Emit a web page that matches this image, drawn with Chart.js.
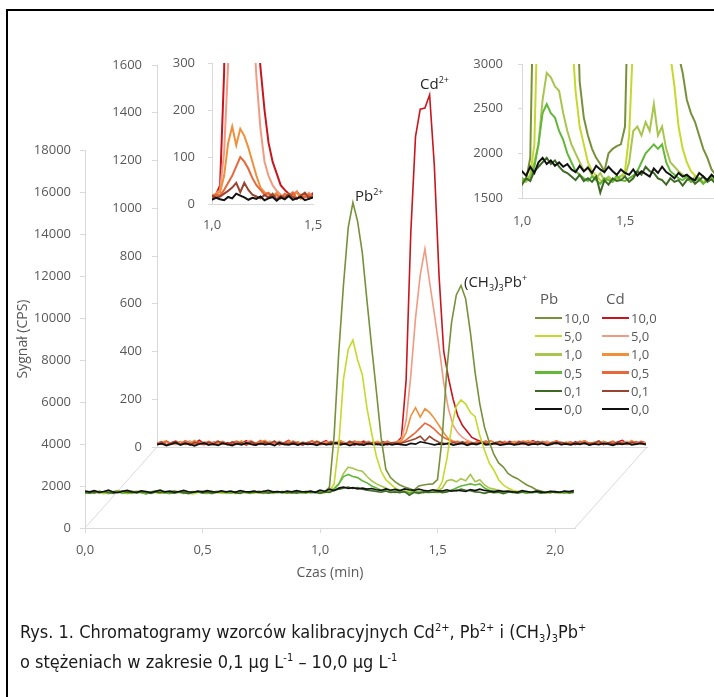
<!DOCTYPE html>
<html lang="pl">
<head>
<meta charset="utf-8">
<title>Chromatogramy wzorców kalibracyjnych</title>
<script src="https://cdn.jsdelivr.net/npm/chart.js@4.4.1/dist/chart.umd.min.js"></script>
<style>
  body { margin: 0; background: #fff; }
  #plansza { position: relative; width: 714px; height: 697px; overflow: hidden; font-family: "Open Sans", sans-serif; }
  #ramka { position: absolute; left: 6px; top: 9px; width: 760px; height: 760px; border-left: 2px solid #000; border-top: 2px solid #000; }
  canvas { position: absolute; left: 0; top: 0; }
  .opis { position: absolute; font-size: 15px; line-height: 16px; color: #262626; white-space: nowrap; }
  .opis sup { font-size: 9px; vertical-align: 6px; line-height: 0; }
  .opis sub { font-size: 9px; vertical-align: -4px; line-height: 0; }
  .naglowek { position: absolute; font-size: 15px; line-height: 16px; color: #595959; }
  .wiersz { position: absolute; height: 18px; display: flex; align-items: center; font-size: 13px; color: #595959; }
  .wiersz i { display: inline-block; width: 27px; height: 2.5px; margin-right: 2px; }
  #podpis { position: absolute; left: 20px; top: 617px; font-family: "Liberation Sans Narrow", "DejaVu Sans Condensed", sans-serif; font-size: 18px; line-height: 30px; color: #1a1a1a; white-space: nowrap; }
  #podpis sup { font-size: 11px; vertical-align: 7px; line-height: 0; }
  #podpis sub { font-size: 11px; vertical-align: -4px; line-height: 0; }
</style>
</head>
<body>
<div id="plansza">
  <div id="ramka"></div>
  <canvas id="tylny" width="714" height="697"></canvas>
  <canvas id="przedni" width="714" height="697"></canvas>
  <canvas id="wstawkaCd" width="714" height="697"></canvas>
  <canvas id="wstawkaPb" width="714" height="697"></canvas>
  <div class="opis" style="left:355px; top:187px">Pb<sup>2+</sup></div>
  <div class="opis" style="left:420px; top:75px">Cd<sup>2+</sup></div>
  <div class="opis" style="left:464px; top:273px">(CH<sub>3</sub>)<sub>3</sub>Pb<sup>+</sup></div>
  <div id="legenda"></div>
  <div id="podpis">Rys. 1. Chromatogramy wzorców kalibracyjnych Cd<sup>2+</sup>, Pb<sup>2+</sup> i (CH<sub>3</sub>)<sub>3</sub>Pb<sup>+</sup><br>o stężeniach w zakresie 0,1&nbsp;µg L<sup>-1</sup> – 10,0&nbsp;µg L<sup>-1</sup></div>
</div>
<script>
// sygnał co 0,02 min, od 0,00 do 2,08 min
const krokCzasu = 0.02;
const stezenia = ['10,0', '5,0', '1,0', '0,5', '0,1', '0,0'];
const kolorPb = ['#77913a', '#c5d92d', '#a8c64e', '#63b83a', '#3f6a25', '#111111'];
const kolorCd = ['#c8161d', '#f29a82', '#f0903a', '#e8683c', '#9a4430', '#111111'];

// Pb (CPS)
const pb100 = [1690,1720,1650,1760,1700,1640,1730,1780,1690,1660,1710,1750,1680,1620,1700,
  1740,1690,1660,1720,1770,1700,1650,1690,1730,1710,1660,1640,1700,1750,1720,
  1680,1700,1660,1730,1690,1710,1750,1680,1650,1700,1720,1690,1740,1700,1660,
  1710,1680,1730,1700,1690,1720,1700,1950,4400,8400,11600,14300,15500,14600,13100,
  10800,8600,6500,4300,2800,2400,2200,2050,1950,1880,1800,2000,2050,2080,2100,
  2300,4300,7600,9800,11100,11550,10900,9300,7400,5900,4800,4100,3500,3100,2900,
  2600,2450,2350,2200,2050,1950,1820,1760,1700,1680,1730,1690,1720,1660,1700];
const pb50 = [1660,1700,1740,1680,1630,1710,1690,1750,1700,1640,1680,1730,1700,1660,1720,
  1690,1650,1710,1740,1680,1700,1730,1660,1620,1690,1720,1700,1750,1680,1660,
  1710,1690,1640,1700,1740,1680,1660,1720,1700,1690,1650,1730,1700,1680,1710,
  1740,1690,1660,1700,1720,1680,1700,1760,2100,4000,7100,8500,8950,8000,7300,
  5700,4500,3400,2700,2300,2100,1900,1800,1750,1700,1680,1720,1690,1700,1740,
  1800,2200,3300,4800,5800,6100,5900,5500,5300,4400,3700,3100,2750,2300,2050,
  1900,1800,1750,1720,1680,1700,1740,1690,1660,1700,1720,1680,1710,1690,1700];
const pb10 = [1720,1680,1700,1750,1690,1660,1710,1740,1680,1700,1650,1720,1760,1690,1670,
  1700,1730,1680,1640,1710,1690,1750,1700,1670,1720,1690,1660,1700,1740,1680,
  1650,1720,1700,1760,1680,1690,1710,1660,1730,1700,1680,1740,1690,1650,1710,
  1700,1740,1680,1720,1690,1710,1680,1750,1900,2100,2600,2900,2850,2750,2700,
  2450,2250,2100,2000,1900,1800,1850,1750,1720,1780,1700,1740,1690,1720,1750,
  1750,1900,2250,2300,2200,2350,2250,2550,2200,2300,2050,1900,1850,1800,1760,
  1720,1690,1740,1700,1660,1710,1730,1680,1700,1750,1690,1660,1720,1700,1680];
const pb05 = [1640,1700,1760,1690,1720,1660,1700,1730,1650,1710,1760,1680,1700,1640,1720,
  1760,1700,1680,1650,1720,1740,1690,1660,1710,1700,1750,1680,1640,1710,1730,
  1690,1660,1740,1700,1720,1650,1690,1760,1700,1680,1720,1700,1660,1740,1690,
  1720,1680,1660,1750,1700,1690,1720,1700,1850,2100,2450,2550,2450,2400,2250,
  2150,2000,1900,1800,1760,1720,1690,1740,1700,1660,1720,1700,1680,1750,1700,
  1690,1720,1750,1800,1900,2000,2050,2100,2050,2100,1900,1800,1760,1720,1700,
  1740,1680,1700,1720,1660,1700,1750,1690,1710,1680,1720,1700,1660,1710,1730];
const pb01 = [1700,1660,1720,1680,1740,1700,1650,1710,1760,1690,1700,1670,1730,1700,1650,
  1710,1680,1740,1700,1660,1720,1690,1640,1700,1730,1680,1710,1660,1700,1750,
  1700,1740,1680,1650,1710,1690,1720,1700,1740,1660,1700,1690,1730,1680,1700,
  1660,1710,1740,1680,1700,1650,1720,1690,1800,1850,1900,1950,1880,1920,1850,
  1800,1780,1740,1700,1760,1690,1720,1680,1740,1560,1700,1650,1720,1690,1700,
  1740,1680,1720,1800,1760,1850,1800,1780,1720,1700,1650,1720,1680,1700,1640,
  1700,1720,1660,1700,1740,1680,1710,1660,1700,1720,1690,1700,1740,1680,1700];
const pb00 = [1760,1720,1780,1700,1740,1800,1720,1680,1750,1790,1730,1700,1770,1740,1690,
  1750,1800,1720,1760,1700,1740,1790,1730,1700,1760,1720,1780,1740,1700,1770,
  1730,1760,1700,1780,1740,1720,1760,1700,1750,1790,1720,1740,1700,1760,1730,
  1780,1740,1720,1760,1700,1800,1750,1850,1780,1900,1950,1880,1920,1860,1900,
  1850,1880,1820,1790,1860,1800,1840,1780,1860,1820,1790,1850,1800,1760,1820,
  1780,1760,1820,1750,1800,1770,1740,1830,1780,1850,1790,1760,1720,1780,1740,
  1760,1720,1700,1780,1740,1700,1760,1720,1690,1750,1730,1700,1760,1740,1780];

// Cd (CPS)
const cd100 = [15,22,8,18,25,12,20,10,16,28,14,9,20,24,12,
  18,10,22,15,26,12,8,19,24,14,20,11,17,27,13,
  21,9,16,24,12,18,26,10,15,22,13,20,8,17,25,
  14,19,11,23,16,12,20,40,280,900,1300,1415,1420,1475,1180,
  720,400,290,200,130,90,65,40,30,22,18,26,15,20,12,
  24,16,20,11,18,27,14,22,9,19,25,13,17,21,10,
  18,26,14,20,12,23,16,9,21,28,15,19,12,24,17];
const cd50 = [20,12,24,16,10,22,18,26,11,15,21,9,19,25,14,
  10,23,17,12,20,28,13,18,9,24,15,21,12,19,26,
  16,11,20,25,14,9,22,17,13,27,19,10,23,15,18,
  24,12,17,20,10,18,22,30,110,300,540,720,830,690,560,
  420,270,160,90,60,40,28,20,14,22,17,11,20,15,24,
  13,19,26,12,17,22,10,18,25,14,20,9,16,23,12,
  21,15,10,19,26,13,18,22,11,17,24,14,20,12,18];
const cd10 = [14,20,26,11,18,23,10,16,27,13,19,22,9,17,24,
  12,21,15,25,10,18,14,22,28,13,17,20,11,24,16,
  22,13,18,10,25,16,21,12,19,27,14,11,20,23,15,
  10,18,24,13,20,16,22,25,60,130,165,125,160,145,120,
  90,60,35,25,20,16,24,12,19,22,14,26,11,18,21,
  15,23,10,20,27,13,17,22,11,19,25,14,21,16,12,
  20,26,13,18,11,24,17,22,10,19,15,27,12,21,16];
const cd05 = [18,11,23,15,20,12,26,17,9,21,14,24,16,10,22,
  13,19,25,11,17,22,15,27,12,18,10,23,16,20,14,
  9,21,16,26,13,18,11,24,17,20,12,15,25,19,10,
  22,14,18,12,24,15,20,18,30,45,60,80,100,90,75,
  55,40,30,20,24,15,19,12,22,17,25,11,18,14,20,
  16,12,21,25,14,19,10,23,17,13,26,18,11,20,15,
  24,13,19,16,22,10,17,25,14,20,12,18,23,15,11];
const cd01 = [12,18,9,15,22,11,17,8,20,14,10,19,13,24,16,
  10,20,13,17,8,22,15,11,19,14,25,9,16,12,21,
  14,9,18,12,23,16,10,20,13,17,11,24,15,9,19,
  13,20,11,16,9,18,14,16,22,28,35,45,25,45,30,
  20,16,12,19,14,22,10,17,13,21,15,11,18,24,12,
  17,10,21,14,19,12,23,15,9,18,13,20,16,11,22,
  14,19,12,16,25,10,18,13,21,15,11,20,14,17,12];
const cd00 = [10,14,6,12,18,8,15,11,5,13,17,9,12,7,16,
  11,6,14,9,17,12,8,15,10,13,6,18,11,9,14,
  8,16,11,13,7,15,10,12,18,9,14,6,13,11,8,
  15,10,12,7,14,9,13,10,8,15,12,22,18,14,9,
  13,11,16,8,12,15,7,14,10,17,9,12,15,8,11,
  14,9,12,16,8,13,11,15,7,12,18,10,13,9,14,
  11,16,8,13,10,15,12,7,14,11,17,9,12,15,10];

const seriePb = [pb100, pb50, pb10, pb05, pb01, pb00];
const serieCd = [cd100, cd50, cd10, cd05, cd01, cd00];
const czas = pb100.map((_, i) => +(i * krokCzasu).toFixed(2));

Chart.defaults.font.family = "'Open Sans', sans-serif";
Chart.defaults.color = '#595959';

const szary = '#d9d9d9';
const przecinek = v => v.toFixed(1).replace('.', ',');
const calkowite = v => String(v);

function zestaw(serie, kolory, grubosc) {
  return serie.map((wartosci, k) => ({
    label: stezenia[k],
    data: wartosci.map((y, i) => ({ x: czas[i], y: y })),
    borderColor: kolory[k],
    backgroundColor: kolory[k],
    borderWidth: grubosc,
    pointRadius: 0,
    tension: 0,
    order: serie.length - 1 - k
  }));
}

function wspolne(padding, scales) {
  return {
    responsive: false,
    animation: false,
    events: [],
    layout: { padding: padding },
    plugins: { legend: { display: false }, tooltip: { enabled: false } },
    scales: scales
  };
}

// przedni panel - Pb
const przedni = new Chart(document.getElementById('przedni'), {
  type: 'line',
  data: { datasets: zestaw(seriePb, kolorPb, 1.6) },
  options: wspolne({ left: 15, top: 150, right: 139, bottom: 112 }, {
    x: {
      type: 'linear', min: 0, max: 2.085,
      ticks: { stepSize: 0.5, includeBounds: false, padding: 9, maxRotation: 0, font: { size: 13 }, callback: przecinek },
      grid: { drawOnChartArea: false, tickLength: 5, color: szary },
      border: { color: szary },
      title: { display: true, text: 'Czas (min)', font: { size: 14 }, padding: { top: 0, bottom: 4 } },
      afterFit: s => { s.height = 57; }
    },
    y: {
      min: 0, max: 18000,
      ticks: { stepSize: 2000, padding: 9, font: { size: 13 }, callback: calkowite },
      grid: { drawOnChartArea: false, tickLength: 5, color: szary },
      border: { color: szary },
      title: { display: true, text: 'Sygnał (CPS)', font: { size: 14 }, padding: 0 },
      afterFit: s => { s.width = 70; }
    }
  })
});

// podłoga pseudo-3D między panelami
const podloga = {
  id: 'podloga',
  beforeDatasetsDraw(chart) {
    const a = przedni.chartArea, b = chart.chartArea, ctx = chart.ctx;
    ctx.save();
    ctx.strokeStyle = szary;
    ctx.lineWidth = 1;
    ctx.beginPath();
    ctx.moveTo(a.left, a.bottom); ctx.lineTo(b.left, b.bottom);
    ctx.moveTo(a.right, a.bottom); ctx.lineTo(b.right, b.bottom);
    ctx.stroke();
    ctx.restore();
  }
};

// tylny panel - Cd
new Chart(document.getElementById('tylny'), {
  type: 'line',
  data: { datasets: zestaw(serieCd, kolorCd, 1.6) },
  options: wspolne({ left: 87, top: 65, right: 67, bottom: 240 }, {
    x: {
      type: 'linear', min: 0, max: 2.085,
      ticks: { display: false },
      grid: { display: false },
      border: { color: szary },
      afterFit: s => { s.height = 10; }
    },
    y: {
      min: 0, max: 1600,
      ticks: { stepSize: 200, padding: 10, font: { size: 13 }, callback: calkowite },
      grid: { drawOnChartArea: false, tickLength: 5, color: szary },
      border: { color: szary },
      afterFit: s => { s.width = 70; }
    }
  }),
  plugins: [podloga]
});

// wstawka Cd 1,0-1,5 min
new Chart(document.getElementById('wstawkaCd'), {
  type: 'line',
  data: { datasets: zestaw(serieCd, kolorCd, 2) },
  options: wspolne({ left: 162, top: 63, right: 401, bottom: 463 }, {
    x: {
      type: 'linear', min: 1, max: 1.5,
      ticks: { stepSize: 0.5, includeBounds: false, padding: 13, maxRotation: 0, font: { size: 13 }, callback: przecinek },
      grid: { drawOnChartArea: false, drawTicks: false, color: szary },
      border: { color: szary },
      afterFit: s => { s.height = 30; }
    },
    y: {
      min: 0, max: 300,
      ticks: { stepSize: 100, padding: 13, font: { size: 13 }, callback: calkowite },
      grid: { drawOnChartArea: false, tickLength: 4, color: szary },
      border: { color: szary },
      afterFit: s => { s.width = 50; }
    }
  })
});

// wstawka Pb 1,0-1,9 min
new Chart(document.getElementById('wstawkaPb'), {
  type: 'line',
  data: { datasets: zestaw(seriePb, kolorPb, 2) },
  options: wspolne({ left: 462, top: 64, right: 0, bottom: 469 }, {
    x: {
      type: 'linear', min: 1, max: 1.932,
      ticks: { stepSize: 0.5, includeBounds: false, padding: 15, maxRotation: 0, font: { size: 13 }, callback: przecinek },
      grid: { drawOnChartArea: false, drawTicks: false, color: szary },
      border: { color: szary },
      afterFit: s => { s.height = 30; }
    },
    y: {
      min: 1500, max: 3000,
      ticks: { stepSize: 500, padding: 15, font: { size: 13 }, callback: calkowite },
      grid: { drawOnChartArea: false, tickLength: 4, color: szary },
      border: { color: szary },
      afterFit: s => { s.width = 60; }
    }
  })
});

// legenda w dwóch kolumnach
const legenda = document.getElementById('legenda');
[['Pb', kolorPb, 535, 540], ['Cd', kolorCd, 602, 606]].forEach(([nazwa, kolory, x, xNaglowka]) => {
  const n = document.createElement('div');
  n.className = 'naglowek';
  n.style.left = xNaglowka + 'px';
  n.style.top = '290px';
  n.textContent = nazwa;
  legenda.appendChild(n);
  stezenia.forEach((s, k) => {
    const w = document.createElement('div');
    w.className = 'wiersz';
    w.style.left = x + 'px';
    w.style.top = (309 + k * 18.2) + 'px';
    w.innerHTML = '<i style="background:' + kolory[k] + '"></i>' + s;
    legenda.appendChild(w);
  });
});
</script>
</body>
</html>
